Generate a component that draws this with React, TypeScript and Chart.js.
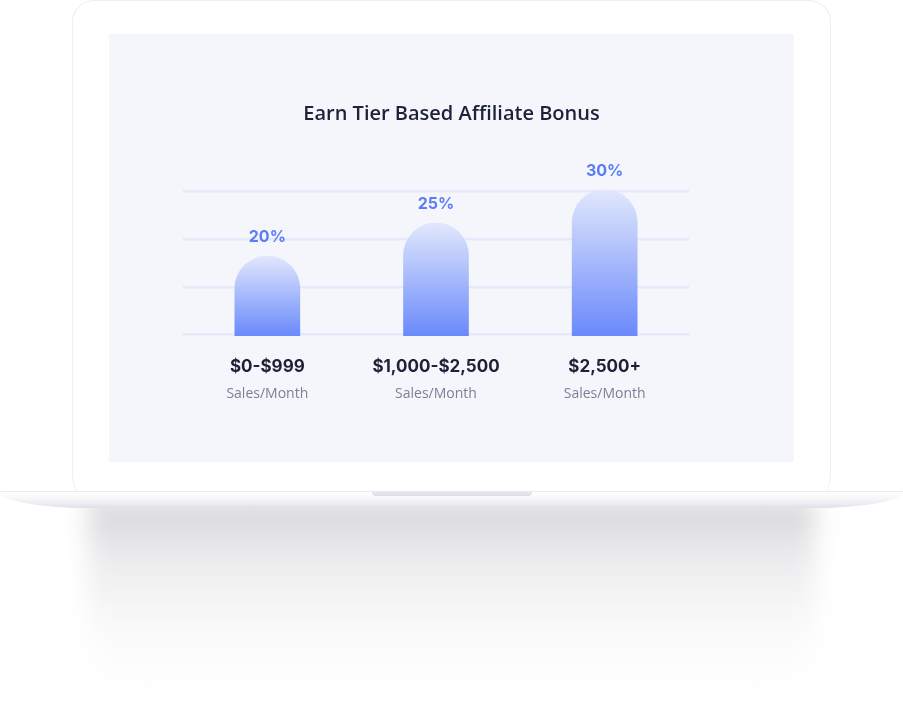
import React, { useEffect, useRef } from "react";
import { Chart, registerables } from "chart.js";

Chart.register(...registerables);

// ---- data ----
const chartTitle = "Earn Tier Based Affiliate Bonus";
const tiers = ["$0-$999", "$1,000-$2,500", "$2,500+"];
const tierSubLabels = ["Sales/Month", "Sales/Month", "Sales/Month"];
const bonusPercent = [20, 25, 30];
const gridValues = [8.15, 15.2, 22.5, 29.8];
const yMin = 7.9;
const yMax = 31.5;

const valueLabels = {
  id: "valueLabels",
  afterDatasetsDraw(chart: any) {
    const ctx = chart.ctx;
    const meta = chart.getDatasetMeta(0);
    ctx.save();
    ctx.font = "700 16px Inter";
    ctx.fillStyle = "#5b7cf7";
    ctx.textAlign = "center";
    ctx.textBaseline = "middle";
    meta.data.forEach((bar: any, i: number) => {
      ctx.fillText(bonusPercent[i] + "%", bar.x, bar.y - 19);
    });
    ctx.restore();
  },
};

function BonusChart() {
  const ref = useRef<HTMLCanvasElement | null>(null);
  useEffect(() => {
    if (!ref.current) return;
    const chart = new Chart(ref.current, {
      type: "bar",
      data: {
        labels: tiers,
        datasets: [
          {
            data: bonusPercent,
            barThickness: 65,
            borderRadius: { topLeft: 40, topRight: 40, bottomLeft: 0, bottomRight: 0 },
            borderSkipped: "bottom",
            backgroundColor: (c: any) => {
              const chart = c.chart;
              const area = chart.chartArea;
              if (!area || c.type !== "data") return "#8aa2fa";
              const top = chart.scales.y.getPixelForValue(c.raw);
              const g = chart.ctx.createLinearGradient(0, top, 0, area.bottom);
              g.addColorStop(0, "#e1e7fc");
              g.addColorStop(1, "#6a89fb");
              return g;
            },
          },
        ],
      },
      options: {
        animation: false,
        responsive: false,
        layout: { padding: { left: 74, right: 74, top: 0, bottom: 59.6 } },
        plugins: {
          legend: { display: false },
          tooltip: { enabled: false },
          title: {
            display: true,
            text: chartTitle,
            color: "#1c2238",
            font: { family: "'Open Sans'", size: 20, weight: "600" },
            padding: { top: 68, bottom: 54 },
          },
        },
        scales: {
          x: {
            type: "category",
            weight: 0,
            grid: { display: false, drawTicks: false },
            border: { display: false },
            ticks: {
              color: "#1d2136",
              font: { family: "Inter", size: 17, weight: "700" },
              padding: 20.8,
            },
            afterFit: (s: any) => {
              s.height = 41.2;
            },
          },
          x2: {
            type: "category",
            labels: tierSubLabels,
            position: "bottom",
            offset: true,
            weight: 1,
            grid: { display: false, drawTicks: false },
            border: { display: false },
            ticks: {
              color: "#7b8094",
              font: { family: "'Open Sans'", size: 14, weight: "400" },
              padding: 8.4,
            },
            afterFit: (s: any) => {
              s.height = 25.2;
            },
          },
          y: {
            min: yMin,
            max: yMax,
            afterBuildTicks: (s: any) => {
              s.ticks = gridValues.map((v) => ({ value: v }));
            },
            ticks: { display: false },
            grid: { color: "#e6e9fa", lineWidth: 2.5, drawTicks: false },
            border: { display: false },
          },
          y2: {
            position: "right",
            grid: { display: false, drawTicks: false },
            ticks: { display: false },
            border: { display: false },
            afterFit: (s: any) => {
              s.width = 31;
            },
          },
        },
      },
      plugins: [valueLabels],
    } as any);
    return () => chart.destroy();
  }, []);
  return <canvas ref={ref} width={685} height={428} style={{ display: "block", width: 685, height: 428 }} />;
}

export default function App() {
  return (
    <div style={{ position: "fixed", left: 0, top: 0, width: 903, height: 714, background: "#ffffff", overflow: "hidden" }}>
      {/* shadow */}
      <div
        style={{
          position: "absolute",
          left: 88,
          top: 500,
          width: 727,
          height: 195,
          background: "linear-gradient(to bottom, rgba(208,208,211,0.9) 0%, rgba(226,226,229,0.65) 30%, rgba(242,242,244,0.4) 65%, rgba(255,255,255,0) 100%)",
          filter: "blur(12px)",
          borderRadius: "0 0 60px 60px",
        }}
      />
      {/* lid */}
      <div
        style={{
          position: "absolute",
          left: 72,
          top: 0,
          width: 757,
          height: 491,
          background: "#ffffff",
          border: "1px solid #eeeef2",
          borderBottom: "none",
          borderRadius: "22px 22px 8px 8px / 22px 22px 18px 18px",
        }}
      />
      {/* base */}
      <div
        style={{
          position: "absolute",
          left: 0,
          top: 491,
          width: 903,
          height: 16,
          background: "linear-gradient(to bottom, #ffffff 0%, #f7f7fa 40%, #e9e9f0 80%, #dedee8 100%)",
          borderTop: "1px solid #ececf0",
          borderRadius: "0 0 90px 90px / 0 0 16px 16px",
        }}
      />
      {/* notch */}
      <div
        style={{
          position: "absolute",
          left: 372,
          top: 491,
          width: 160,
          height: 5,
          background: "linear-gradient(to bottom, #eaeaf0, #dcdce6)",
          borderRadius: "0 0 4px 4px",
        }}
      />
      {/* screen */}
      <div style={{ position: "absolute", left: 109, top: 34, width: 685, height: 428, background: "#f5f6fc" }}>
        <BonusChart />
      </div>
    </div>
  );
}
